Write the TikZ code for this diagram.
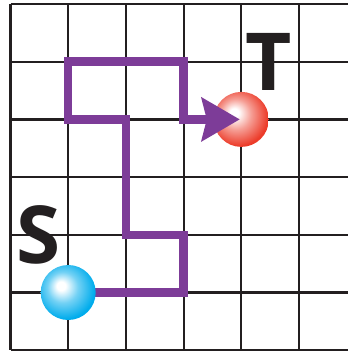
\documentclass[tikz,border=0pt]{standalone}
\usepackage{fontspec}
\newfontfamily\lblfont{Open Sans}
\usetikzlibrary{arrows.meta}
\definecolor{gridc}{RGB}{35,31,32}
\definecolor{pathc}{RGB}{125,60,152}
\definecolor{ballblue}{RGB}{0,172,236}
\definecolor{ballred}{RGB}{236,60,42}
\pgfdeclareradialshading{blueballsh}{\pgfpoint{-7bp}{6.5bp}}{color(0bp)=(white); color(4bp)=(white); color(14bp)=(ballblue!55!white); color(27bp)=(ballblue); color(50bp)=(ballblue)}
\pgfdeclareradialshading{redballsh}{\pgfpoint{-7bp}{6.5bp}}{color(0bp)=(white); color(4bp)=(white); color(14bp)=(ballred!50!white); color(27bp)=(ballred); color(50bp)=(ballred)}
\tikzset{
  gridline/.style={draw=gridc, line width=2.2pt},
  route/.style={draw=pathc, line width=8.5pt, line join=miter, line cap=butt,
    -{Stealth[length=38pt, width=43pt, inset=5pt]}},
  ballnode/.style={circle, minimum size=55pt, inner sep=0pt},
  blueball/.style={ballnode, shading=blueballsh},
  redball/.style={ballnode, shading=redballsh},
  letter/.style={inner sep=0pt, text=gridc, font=\lblfont\bfseries\fontsize{80}{80}\selectfont}
}
\begin{document}
\begin{tikzpicture}[x=1pt, y=-1pt]
\useasboundingbox (0,0) rectangle (348,353);
% grid
\foreach \i in {0,...,5} {
  \draw[gridline] ({10.5+57.7*\i},4) -- ({10.5+57.7*\i},350.2);
}
\foreach \j in {0,...,6} {
  \draw[gridline] (10.5,{4+57.7*\j}) -- (348,{4+57.7*\j});
}
% corner points of the route
\coordinate (sp) at (68.2,292.5);
\coordinate (tp) at (241.3,119.4);
\coordinate (c1) at (183.6,292.5);
\coordinate (c2) at (183.6,234.8);
\coordinate (c3) at (125.9,234.8);
\coordinate (c4) at (125.9,119.4);
\coordinate (c5) at (68.2,119.4);
\coordinate (c6) at (68.2,61.7);
\coordinate (c7) at (183.6,61.7);
\coordinate (c8) at (183.6,119.4);
% target ball
\node[redball] (tball) at (tp) {};
% route
\draw[route] (sp) -- (c1) -- (c2) -- (c3) -- (c4) -- (c5) -- (c6) -- (c7) -- (c8) -- ([xshift=-1.5pt]tball.center);
% start ball
\node[blueball] (sball) at (sp) {};
% labels
\node[letter] (slabel) at (39,234.5) {S};
\node[letter] (tlabel) at (268.5,62) {T};
\end{tikzpicture}
\end{document}
